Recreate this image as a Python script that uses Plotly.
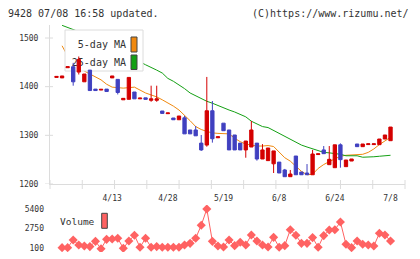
import plotly.graph_objects as go

# ---------------- data ----------------
tick_idx = [10, 20, 30, 40, 50, 60]
tick_labels = ["4/13", "4/28", "5/19", "6/8", "6/24", "7/8"]

opens = [1419, 1418, 1439, 1441, 1430, 1410, 1434, 1395, 1393, 1395,
         1418, 1415, 1373, 1374, 1389, 1375, 1377, 1372, 1372, 1350,
         1344.5, 1335.6, 1332, 1336, 1311, 1311, 1284, 1280, 1350.5, 1295,
         1325, 1311, 1300.7, 1284, 1270, 1276, 1284, 1251.4, 1248, 1241.5,
         1245, 1228.8, 1215, 1257.5, 1224.6, 1222.6, 1219, 1260.5, 1270, 1239.7,
         1233.5, 1280.5, 1235.6, 1247.2, 1282.2, 1276.7, 1281, 1281, 1280.8, 1292.4,
         1289]
highs = [1421, 1422, 1441, 1449, 1462, 1426, 1434, 1395, 1394.5, 1395,
         1422, 1415, 1376, 1419, 1389, 1376.5, 1377, 1402, 1402, 1350,
         1346, 1335.6, 1339.7, 1340, 1311, 1319, 1300.7, 1420, 1370.5, 1297,
         1325, 1311, 1300.7, 1284, 1288.3, 1329.5, 1284, 1282, 1274, 1268,
         1245, 1231, 1228.8, 1257.5, 1224.6, 1241, 1270, 1262, 1278, 1278,
         1280.5, 1283.5, 1249.3, 1251.4, 1282.2, 1282.2, 1282.5, 1282.5, 1292.4, 1300.7,
         1317]
lows = [1419, 1418, 1439, 1402, 1425, 1410, 1392, 1392, 1393, 1390,
        1418, 1384, 1373, 1374, 1375, 1375, 1374, 1369, 1369, 1345,
        1344.5, 1332, 1332, 1303, 1303, 1299, 1268, 1276.7, 1285, 1295,
        1309.5, 1270, 1270, 1270, 1254, 1276, 1248, 1251.4, 1248, 1222.6,
        1222.6, 1215, 1215, 1219, 1219, 1219, 1219, 1260.5, 1262.3, 1239.7,
        1233.5, 1233.5, 1235.6, 1247.2, 1276.7, 1276.7, 1281, 1281, 1280.8, 1292.4,
        1289]
closes = [1421, 1422, 1441, 1410, 1456, 1426, 1392, 1392, 1394.5, 1390,
          1422, 1388, 1376, 1419, 1375, 1376.5, 1374, 1375, 1375, 1345,
          1346, 1332, 1339.7, 1303, 1303, 1299, 1270, 1350.5, 1293, 1297,
          1309.5, 1270, 1270, 1270, 1288.3, 1311, 1251.4, 1270, 1274, 1268,
          1222.6, 1215, 1220.5, 1219, 1219, 1219, 1261.6, 1262, 1262.3, 1250.7,
          1280.5, 1250, 1249.3, 1251.4, 1276.7, 1282.2, 1282.5, 1282.5, 1292.4, 1300.7,
          1317]

# volume, 5-day MA and 25-day MA start on the second day shown
volume = [190, 190, 1220, 550, 410, 330, 1040, 40, 1310, 1360,
          1450, 100, 1090, 1850, 240, 1450, 240, 330, 240, 240,
          240, 240, 550, 770, 1450, 3200, 5400, 1040, 410, 280,
          1220, 460, 910, 550, 1900, 1090, 550, 280, 1580, 240,
          460, 2610, 1850, 770, 770, 1540, 240, 1810, 2570, 2610,
          3650, 640, 190, 1090, 640, 550, 410, 2120, 1900, 1090]
ma5 = [1484, 1463, 1452, 1443, 1432, 1426, 1421, 1414, 1405, 1399,
       1398, 1397, 1398, 1399, 1393, 1387, 1383, 1379, 1373, 1367,
       1360, 1352, 1342, 1330, 1318, 1312, 1308, 1305, 1304, 1304,
       1303, 1294, 1287, 1282, 1280, 1278, 1278, 1279, 1277, 1266,
       1254, 1247, 1236, 1226, 1219, 1220, 1232, 1240, 1246, 1252,
       1257, 1259, 1260, 1260, 1261, 1265, 1272, 1281, 1289, 1296]
ma25 = [1526, 1522, 1518, 1513, 1507, 1501, 1495, 1489, 1483, 1477,
        1471, 1465, 1460, 1455, 1451, 1445, 1440, 1434, 1428, 1417,
        1411, 1404, 1396, 1387, 1381, 1376, 1370, 1366, 1361, 1356,
        1352, 1348, 1343, 1338, 1329, 1323, 1318, 1316, 1310, 1304,
        1298, 1292, 1285, 1280, 1276, 1272, 1268, 1265, 1264, 1263,
        1261, 1258, 1258, 1258, 1255, 1255, 1256, 1257, 1258, 1259]

days = list(range(len(opens)))
days_ma = days[1:]

# ---------------- geometry / style ----------------
W, H = 420, 259
PX_L, PX_R, PY_T, PY_B = 50, 405, 25, 184
IDX0_PX, STEP = 56.5, 5.567
x_range = [(PX_L - IDX0_PX) / STEP, (PX_R - IDX0_PX) / STEP]
y_range = [1200, 1200 + (PY_B - PY_T) * 300 / 146]
VY_T, VY_B = 205, 252
v_per_px = 5300 / 39.3
vy_range = [100 - (VY_B - 248.3) * v_per_px, 5400 + (209 - VY_T) * v_per_px]

RED = "#d40000"
BLUE = "#4040c0"
ORANGE = "#f0890f"
GREEN = "#14a014"
VOL = "#ff6262"
AXIS = "#dcdcdc"
TXT = "#333333"
MONO = "DejaVu Sans Mono"


def px2x(px):
    return x_range[0] + (px - PX_L) / (PX_R - PX_L) * (x_range[1] - x_range[0])


def py2y(py):
    return y_range[0] + (PY_B - py) / (PY_B - PY_T) * (y_range[1] - y_range[0])


def rect(x0, x1, y0, y1):
    return ([px2x(x0), px2x(x1), px2x(x1), px2x(x0), px2x(x0)],
            [py2y(y0), py2y(y0), py2y(y1), py2y(y1), py2y(y0)])


fig = go.Figure()

# moving averages (under the candles)
fig.add_trace(go.Scatter(x=days_ma, y=ma5, mode="lines", line=dict(color=ORANGE, width=1),
                         xaxis="x", yaxis="y", showlegend=False, hoverinfo="skip"))
fig.add_trace(go.Scatter(x=days_ma, y=ma25, mode="lines", line=dict(color=GREEN, width=1),
                         xaxis="x", yaxis="y", showlegend=False, hoverinfo="skip"))

# legend box (hides MA lines, is covered by candles)
bx, by = rect(65, 143, 30, 71)
fig.add_trace(go.Scatter(x=bx, y=by, mode="lines", fill="toself", fillcolor="white",
                         line=dict(color=AXIS, width=1), xaxis="x", yaxis="y",
                         showlegend=False, hoverinfo="skip"))
for (y0, y1), col in [((37, 52), ORANGE), ((55, 69.5), GREEN)]:
    sx, sy = rect(131, 137, y0, y1)
    fig.add_trace(go.Scatter(x=sx, y=sy, mode="lines", fill="toself", fillcolor=col,
                             line=dict(color="#444444", width=1), xaxis="x", yaxis="y",
                             showlegend=False, hoverinfo="skip"))
for label, py in [("5-day MA", 45.5), ("25-day MA", 63)]:
    fig.add_trace(go.Scatter(x=[px2x(126)], y=[py2y(py)], mode="text", text=[label],
                             textposition="middle left",
                             textfont=dict(family=MONO, size=10, color=TXT),
                             xaxis="x", yaxis="y", showlegend=False, hoverinfo="skip"))

# candles on an overlaying axis so they are drawn above everything in the main panel
fig.add_trace(go.Candlestick(
    x=days, open=opens, high=highs, low=lows, close=closes,
    increasing=dict(line=dict(color=RED, width=1), fillcolor=RED),
    decreasing=dict(line=dict(color=BLUE, width=1), fillcolor=BLUE),
    whiskerwidth=0, xaxis="x", yaxis="y2", showlegend=False, hoverinfo="skip"))

# volume
fig.add_trace(go.Scatter(x=days_ma, y=volume, mode="lines+markers",
                         line=dict(color=VOL, width=1),
                         marker=dict(symbol="diamond", size=7, color=VOL),
                         xaxis="x2", yaxis="y3", showlegend=False, hoverinfo="skip"))

shapes = []
for k in range(12):
    px = PX_L + k * (PX_R - PX_L) / 11
    shapes.append(dict(type="line", xref="paper", yref="paper", x0=px / W, x1=px / W,
                       y0=1 - 180 / H, y1=1 - 189 / H, line=dict(color=AXIS, width=1)))
for v in [1200, 1300, 1400, 1500]:
    shapes.append(dict(type="line", xref="paper", yref="y", x0=45 / W, x1=53 / W,
                       y0=v, y1=v, line=dict(color=AXIS, width=1)))
shapes.append(dict(type="rect", xref="paper", yref="paper", x0=101.7 / W, x1=107.3 / W,
                   y0=1 - 228.3 / H, y1=1 - 213.3 / H, fillcolor=VOL,
                   line=dict(color="#444444", width=1)))
# keep the bottom-left corner white
shapes.append(dict(type="rect", xref="paper", yref="paper", x0=0, x1=12 / W,
                   y0=0, y1=12 / H, fillcolor="white", line=dict(width=0), layer="above"))

annotations = [
    dict(text="9428 07/08 16:58 updated.", xref="paper", yref="paper", x=6 / W, y=1 - 13 / H,
         xanchor="left", yanchor="middle", showarrow=False,
         font=dict(family=MONO, size=10, color=TXT)),
    dict(text="(C)https://www.rizumu.net/", xref="paper", yref="paper", x=411 / W, y=1 - 13 / H,
         xanchor="right", yanchor="middle", showarrow=False,
         font=dict(family=MONO, size=10, color=TXT)),
    dict(text="Volume", xref="paper", yref="paper", x=58 / W, y=1 - 221.5 / H,
         xanchor="left", yanchor="middle", showarrow=False,
         font=dict(family=MONO, size=9.5, color=TXT)),
]

tickfont = dict(family=MONO, size=8, color=TXT)

fig.update_layout(
    width=W, height=H, margin=dict(l=0, r=0, t=0, b=0, autoexpand=False),
    autosize=False,
    paper_bgcolor="white", plot_bgcolor="white",
    boxgap=0.15, showlegend=False,
    xaxis=dict(domain=[PX_L / W, PX_R / W], anchor="y", range=x_range,
               tickmode="array", tickvals=tick_idx, ticktext=tick_labels,
               ticks="", showgrid=False, zeroline=False, showline=True,
               linecolor=AXIS, linewidth=1, tickfont=tickfont, ticklabelstandoff=6,
               rangeslider=dict(visible=False), fixedrange=True, automargin=False),
    yaxis=dict(domain=[1 - PY_B / H, 1 - PY_T / H], anchor="x", range=y_range,
               tickmode="array", tickvals=[1200, 1300, 1400, 1500],
               ticks="", showgrid=False, zeroline=False, showline=True,
               linecolor=AXIS, linewidth=1, tickfont=tickfont, ticklabelstandoff=9,
               fixedrange=True, automargin=False),
    yaxis2=dict(overlaying="y", anchor="x", range=y_range, visible=False,
                showgrid=False, zeroline=False, fixedrange=True),
    xaxis2=dict(domain=[PX_L / W, PX_R / W], anchor="y3", range=x_range, visible=False,
                showgrid=False, zeroline=False, fixedrange=True),
    yaxis3=dict(domain=[1 - VY_B / H, 1 - VY_T / H], anchor="x2", range=vy_range,
                tickmode="array", tickvals=[100, 2750, 5400], ticktext=["100", "2750", "5400"],
                ticks="", showgrid=False, zeroline=False, showline=False,
                tickfont=tickfont, ticklabelstandoff=5, fixedrange=True, automargin=False),
    shapes=shapes, annotations=annotations,
)

fig.write_html("out.html")
